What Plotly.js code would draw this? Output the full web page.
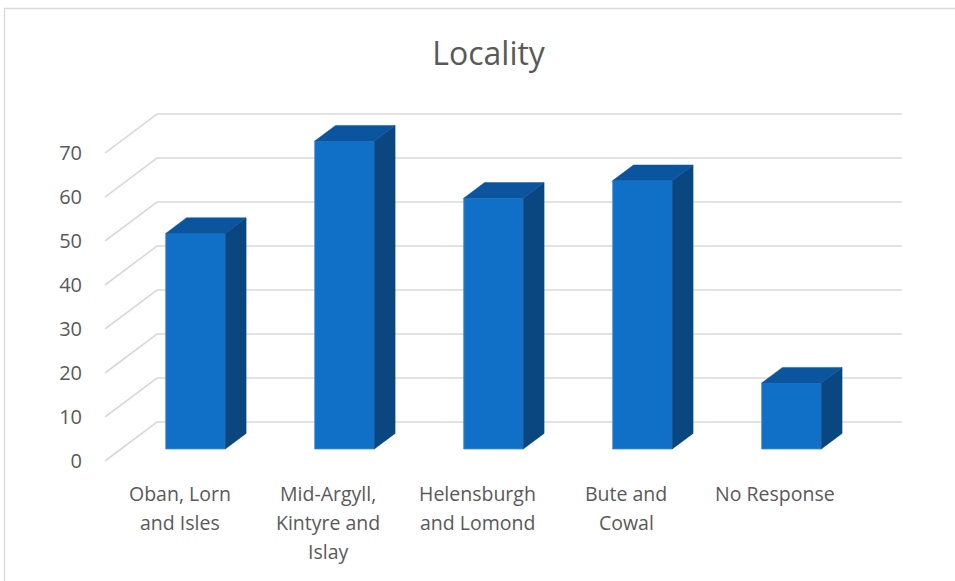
<!DOCTYPE html>
<html>
<head>
<meta charset="utf-8">
<script src="https://cdn.plot.ly/plotly-3.0.1.min.js"></script>
<style>html,body{margin:0;padding:0;background:#fff;}#chart{width:955px;height:581px;}</style>
</head>
<body>
<div id="chart"></div>
<script>
// ---- data ----
const categories = ["Oban, Lorn and Isles", "Mid-Argyll, Kintyre and Islay", "Helensburgh and Lomond", "Bute and Cowal", "No Response"];
const labelLines = [["Oban, Lorn", "and Isles"], ["Mid-Argyll,", "Kintyre and", "Islay"], ["Helensburgh", "and Lomond"], ["Bute and", "Cowal"], ["No Response"]];
const values = [49, 70, 57, 61, 15];
const yTicks = [0, 10, 20, 30, 40, 50, 60, 70];

// ---- 3D oblique projection settings (in axis units) ----
const DEPTH_X = 0.349;   // horizontal shift of the back wall, category units
const DEPTH_Y = 8.86;    // vertical shift of the back wall, value units
const BAR_FRONT = 0.308; // bar front face depth fraction
const BAR_DEPTH = 0.40;  // bar depth fraction
const BAR_W = 0.40;
const X0 = -0.5, X1 = 4.5;

const FRONT = '#1070C8', TOP = '#0B559E', SIDE = '#0A4680';
const TXT = '#595959', GRID = '#D9D9D9';

const fx = BAR_FRONT * DEPTH_X, fy = BAR_FRONT * DEPTH_Y;
const dx = BAR_DEPTH * DEPTH_X, dy = BAR_DEPTH * DEPTH_Y;

// front faces
const xs = categories.map((c, i) => i + fx);
const front = {
  type: 'bar', x: xs, y: values, base: values.map(() => fy), width: BAR_W,
  marker: {color: FRONT, line: {color: '#3F8CD6', width: 0.8}},
  hovertext: categories, hoverinfo: 'text+y', showlegend: false
};
// top and side faces
const topX = [], topY = [], sideX = [], sideY = [];
values.forEach((v, i) => {
  const xl = xs[i] - BAR_W / 2, xr = xs[i] + BAR_W / 2, yb = fy, yt = fy + v;
  topX.push(xl, xr, xr + dx, xl + dx, xl, null);
  topY.push(yt, yt, yt + dy, yt + dy, yt, null);
  sideX.push(xr, xr + dx, xr + dx, xr, xr, null);
  sideY.push(yb, yb + dy, yt + dy, yt, yb, null);
});
const tops = {type: 'scatter', mode: 'lines', x: topX, y: topY, fill: 'toself', fillcolor: TOP,
  line: {color: TOP, width: 0.5}, hoverinfo: 'skip', showlegend: false};
const sides = {type: 'scatter', mode: 'lines', x: sideX, y: sideY, fill: 'toself', fillcolor: SIDE,
  line: {color: SIDE, width: 0.5}, hoverinfo: 'skip', showlegend: false};

// gridlines: floor diagonal + back wall
const shapes = yTicks.map(v => ({
  type: 'path', xref: 'x', yref: 'y', layer: 'below',
  path: `M ${X0},${v} L ${X0 + DEPTH_X},${v + DEPTH_Y} L ${X1 + DEPTH_X},${v + DEPTH_Y}`,
  line: {color: GRID, width: 1.6}
}));
// chart border
shapes.push({type: 'rect', xref: 'paper', yref: 'paper', x0: -0.1151, x1: 1.07, y0: -0.36, y1: 1.2895,
  line: {color: GRID, width: 1.3}, layer: 'below'});

// category labels
const annotations = [];
labelLines.forEach((lines, i) => {
  lines.forEach((t, k) => {
    const px = 493 + 29 * k;
    annotations.push({xref: 'x', yref: 'paper', x: i, y: (465 - px) / 354, text: t, showarrow: false,
      xanchor: 'center', yanchor: 'middle', font: {family: 'Open Sans', size: 19.5, color: TXT}});
  });
});

const layout = {
  width: 955, height: 581,
  margin: {l: 98, r: 45, t: 111, b: 116},
  paper_bgcolor: '#fff', plot_bgcolor: 'rgba(0,0,0,0)',
  title: {text: 'Locality', x: 0.5116, xref: 'container', xanchor: 'center', y: 1 - 54 / 581, yanchor: 'middle',
    font: {family: 'Open Sans', size: 32, color: TXT}},
  xaxis: {range: [-0.547, 4.903], showgrid: false, zeroline: false, showline: false, showticklabels: false, ticks: '', fixedrange: true},
  yaxis: {range: [-0.909, 79.55], tickvals: yTicks, showgrid: false, zeroline: false, showline: false, ticks: '',
    ticklabelstandoff: 15, tickfont: {family: 'Open Sans', size: 20, color: TXT}, fixedrange: true},
  shapes: shapes, annotations: annotations, bargap: 0, showlegend: false
};

Plotly.newPlot('chart', [front, sides, tops], layout, {displayModeBar: false, staticPlot: true});
</script>
</body>
</html>
